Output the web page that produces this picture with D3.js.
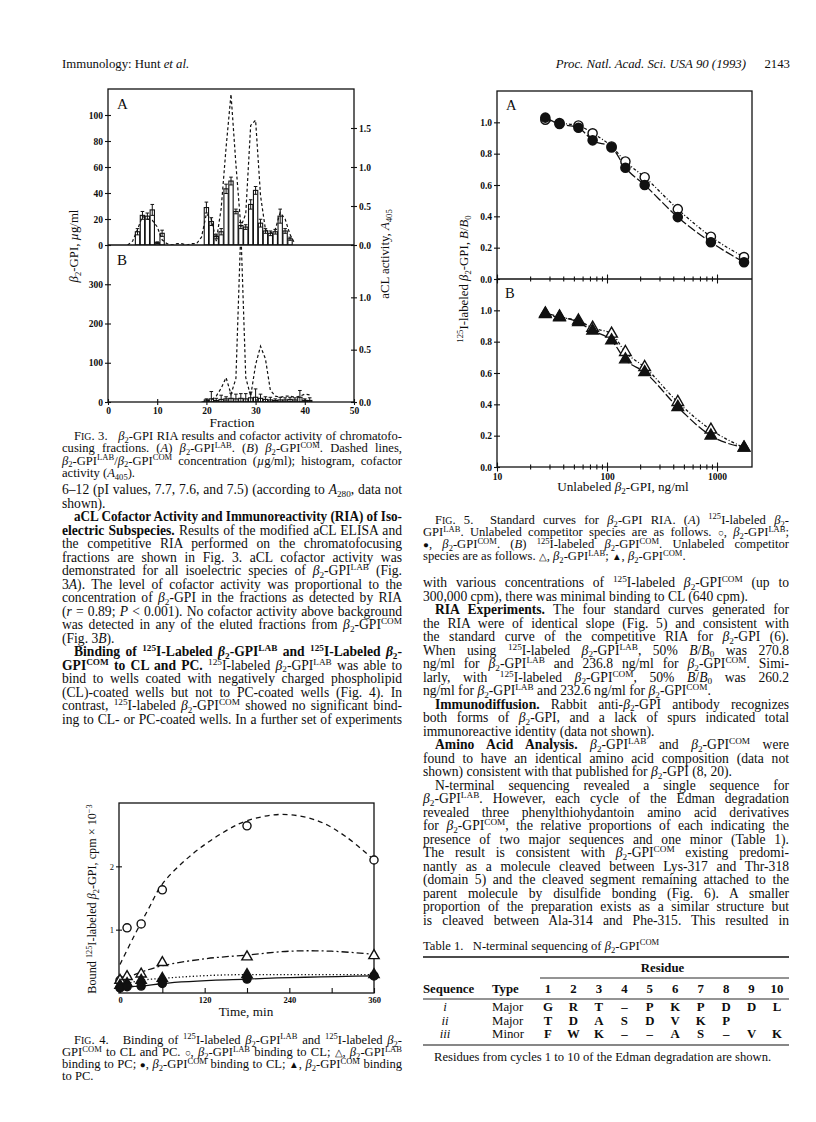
<!DOCTYPE html>
<html>
<head>
<meta charset="utf-8">
<script src="https://cdn.jsdelivr.net/npm/d3@7"></script>
<style>
  body { margin: 0; background: #fff; }
  svg { display: block; }
  text { font-family: "Liberation Serif", "Times New Roman", serif; fill: #0d0d0d; }
</style>
</head>
<body>
<svg id="page" width="816" height="1122"></svg>
<script>
// ---------------- data ----------------
// Fig. 3A: histogram (cofactor activity, A405) and dashed concentration (ug/ml)
var f3aBarFrac = [6,7,8,9,10,11,20,21,22,23,24,25,26,27,28,29,30,31,32,33,34,35,36,37];
var f3aBarA405 = [0.17,0.38,0.37,0.45,0.03,0.15,0.48,0.30,0.11,0.17,0.72,0.82,0.43,0.25,0.23,0.52,0.70,0.28,0.18,0.15,0.17,0.37,0.18,0.08];
var f3aBarErr  = [0.04,0.05,0.04,0.07,0.01,0.04,0.07,0.05,0.03,0.04,0.06,0.05,0.03,0.04,0.03,0.06,0.05,0.05,0.03,0.03,0.03,0.09,0.03,0.02];
var f3aConcFrac = [4,5,6,7,8,9,10,11,12,13,14,15,16,17,18,19,20,21,22,23,24,25,26,27,28,29,30,31,32,33,34,35,36,37,38];
var f3aConc     = [0,3,12,22,20,19,14,4,1,0,1,1,0,1,1,6,24,20,3,28,75,116,62,14,24,92,96,38,12,9,12,25,20,8,1];

// Fig. 3B
var f3bBarFrac = [20,21,22,23,24,25,26,27,28,29,30,31,32,33,34,35,36,37,38,39,40,41];
var f3bBarA405 = [0.02,0.03,0.015,0.025,0.03,0.035,0.03,0.035,0.03,0.04,0.045,0.035,0.025,0.02,0.015,0.02,0.02,0.025,0.02,0.045,0.015,0.015];
var f3bBarErr  = [0.01,0.07,0.02,0.04,0.02,0.05,0.045,0.045,0.05,0.055,0.08,0.04,0.025,0.025,0.015,0.025,0.02,0.02,0.02,0.065,0.015,0.025];
var f3bConcFrac = [19,20,21,22,23,24,25,26,27,28,29,30,31,32,33,34,35,36,37,38,39,40,41];
var f3bConc     = [0,2,5,15,35,62,20,60,440,62,15,95,142,110,30,15,12,15,15,12,15,20,18];

// Fig. 5: unlabeled competitor (ng/ml) vs B/B0
var f5Conc = [27.5,37,55,74,110,147,220,440,880,1760];
var f5aLab = [1.017,0.996,0.98,0.93,0.846,0.75,0.65,0.446,0.27,0.14];
var f5aCom = [1.03,0.99,0.965,0.885,0.84,0.71,0.60,0.395,0.235,0.107];
var f5bLab = [0.975,0.955,0.934,0.888,0.85,0.733,0.637,0.414,0.238,0.123];
var f5bCom = [0.98,0.96,0.924,0.87,0.807,0.686,0.605,0.382,0.20,0.123];
var f5Ticks = [10,20,30,40,50,60,70,80,90,100,200,300,400,500,600,700,800,900,1000];
var f5Major = [10,100,1000];

// Fig. 4: bound cpm x 10^-3 vs time (min)
var f4Times = [0,10,30,60,180,360];
var f4LabCL = [0.2,1.03,1.09,1.63,2.64,2.10];
var f4LabPC = [0.2,0.26,0.3,0.48,0.57,0.59];
var f4ComCL = [0.08,0.1,0.11,0.15,0.22,0.27];
var f4ComPC = [0.12,0.15,0.2,0.23,0.29,0.29];
var f4FitLabCLt = [0,20,40,60,100,150,180,230,280,320,360];
var f4FitLabCL  = [0.45,0.9,1.32,1.72,2.17,2.56,2.72,2.82,2.72,2.47,2.1];
var f4FitLabPCt = [0,30,60,120,180,240,300,360];
var f4FitLabPC  = [0.2,0.33,0.43,0.54,0.6,0.66,0.66,0.61];
var f4XTicks = [0,60,120,180,240,300,360];
var f4XLabels = [0,120,240,360];

// Table 1
var tabSeq = ["i","ii","iii"];
var tabType = ["Major","Major","Minor"];
var tabRes = [
  ["G","R","T","–","P","K","P","D","D","L"],
  ["T","D","A","S","D","V","K","P","",""],
  ["F","W","K","–","–","A","S","–","V","K"]
];
var tabCols = [1,2,3,4,5,6,7,8,9,10];

// ---------------- text ----------------
var leftBody = [
  "6–12 (pI values, 7.7, 7.6, and 7.5) (according to *A*_{280}, data not",
  "shown).¶",
  "> #aCL Cofactor Activity and Immunoreactivity (RIA) of Iso-#",
  "#electric Subspecies.# Results of the modified aCL ELISA and",
  "the competitive RIA performed on the chromatofocusing",
  "fractions are shown in Fig. 3. aCL cofactor activity was",
  "demonstrated for all isoelectric species of ~-GPI^{LAB} (Fig.",
  "3*A*). The level of cofactor activity was proportional to the",
  "concentration of ~-GPI in the fractions as detected by RIA",
  "(*r* = 0.89; *P* < 0.001). No cofactor activity above background",
  "was detected in any of the eluted fractions from ~-GPI^{COM}",
  "(Fig. 3*B*).¶",
  "> #Binding of ^{125}I-Labeled ~-GPI^{LAB} and ^{125}I-Labeled ~-#",
  "#GPI^{COM} to CL and PC.# ^{125}I-labeled ~-GPI^{LAB} was able to",
  "bind to wells coated with negatively charged phospholipid",
  "(CL)-coated wells but not to PC-coated wells (Fig. 4). In",
  "contrast, ^{125}I-labeled ~-GPI^{COM} showed no significant bind-",
  "ing to CL- or PC-coated wells. In a further set of experiments"
];
var rightBody = [
  "with various concentrations of ^{125}I-labeled ~-GPI^{COM} (up to",
  "300,000 cpm), there was minimal binding to CL (640 cpm).¶",
  "> #RIA Experiments.# The four standard curves generated for",
  "the RIA were of identical slope (Fig. 5) and consistent with",
  "the standard curve of the competitive RIA for ~-GPI (6).",
  "When using ^{125}I-labeled ~-GPI^{LAB}, 50% *B*/*B*_{0} was 270.8",
  "ng/ml for ~-GPI^{LAB} and 236.8 ng/ml for ~-GPI^{COM}. Simi-",
  "larly, with ^{125}I-labeled ~-GPI^{COM}, 50% *B*/*B*_{0} was 260.2",
  "ng/ml for ~-GPI^{LAB} and 232.6 ng/ml for ~-GPI^{COM}.¶",
  "> #Immunodiffusion.# Rabbit anti-~-GPI antibody recognizes",
  "both forms of ~-GPI, and a lack of spurs indicated total",
  "immunoreactive identity (data not shown).¶",
  "> #Amino Acid Analysis.# ~-GPI^{LAB} and ~-GPI^{COM} were",
  "found to have an identical amino acid composition (data not",
  "shown) consistent with that published for ~-GPI (8, 20).¶",
  "> N-terminal sequencing revealed a single sequence for",
  "~-GPI^{LAB}. However, each cycle of the Edman degradation",
  "revealed three phenylthiohydantoin amino acid derivatives",
  "for ~-GPI^{COM}, the relative proportions of each indicating the",
  "presence of two major sequences and one minor (Table 1).",
  "The result is consistent with ~-GPI^{COM} existing predomi-",
  "nantly as a molecule cleaved between Lys-317 and Thr-318",
  "(domain 5) and the cleaved segment remaining attached to the",
  "parent molecule by disulfide bonding (Fig. 6). A smaller",
  "proportion of the preparation exists as a similar structure but",
  "is cleaved between Ala-314 and Phe-315. This resulted in"
];
var cap3 = [
  "> F%{IG}. 3.   ~-GPI RIA results and cofactor activity of chromatofo-",
  "cusing fractions. (*A*) ~-GPI^{LAB}. (*B*) ~-GPI^{COM}. Dashed lines,",
  "~-GPI^{LAB}/~-GPI^{COM} concentration (*µ*g/ml); histogram, cofactor",
  "activity (*A*_{405}).¶"
];
var cap4 = [
  "> F%{IG}. 4.   Binding of ^{125}I-labeled ~-GPI^{LAB} and ^{125}I-labeled ~-",
  "GPI^{COM} to CL and PC. %{○}, ~-GPI^{LAB} binding to CL; %{△}, ~-GPI^{LAB}",
  "binding to PC; %{●}, ~-GPI^{COM} binding to CL; %{▲}, ~-GPI^{COM} binding",
  "to PC.¶"
];
var cap5 = [
  "> F%{IG}. 5.  Standard curves for ~-GPI RIA. (*A*) ^{125}I-labeled ~-",
  "GPI^{LAB}. Unlabeled competitor species are as follows. %{○}, ~-GPI^{LAB};",
  "%{●}, ~-GPI^{COM}. (*B*) ^{125}I-labeled ~-GPI^{COM}. Unlabeled competitor",
  "species are as follows. %{△}, ~-GPI^{LAB}; %{▲}, ~-GPI^{COM}.¶"
];

// ---------------- layout ----------------
var LX0 = 62, LX1 = 402, RX0 = 423, RX1 = 789;
var LEAD = 13.5, BODY = 13.6, CAP = 12.6;

var svg = d3.select("#page");

function rich(parent, str, x, y, opt) {
  opt = Object.assign({size: BODY, anchor: "start", width: 0, rotate: 0, bold: false, italic: false}, opt || {});
  str = str.replace(/~/g, "*β*_{2}");
  var runs = [], it = opt.italic, bd = opt.bold, buf = "";
  function flush() { if (buf) runs.push({t: buf, it: it, bd: bd, pos: 0, small: false}); buf = ""; }
  for (var i = 0; i < str.length; i++) {
    var c = str[i];
    if (c === "*") { flush(); it = !it; continue; }
    if (c === "#") { flush(); bd = !bd; continue; }
    if ((c === "^" || c === "_" || c === "%") && str[i + 1] === "{") {
      flush();
      var j = str.indexOf("}", i);
      runs.push({t: str.slice(i + 2, j), it: it, bd: bd, pos: c === "^" ? 1 : c === "_" ? -1 : 0, small: true});
      i = j; continue;
    }
    buf += c;
  }
  flush();
  var t = parent.append("text").attr("x", x).attr("y", y)
    .attr("font-size", opt.size).attr("text-anchor", opt.anchor)
    .style("white-space", "pre");
  if (opt.rotate) t.attr("transform", "rotate(" + opt.rotate + "," + x + "," + y + ")");
  var cur = 0;
  runs.forEach(function(r) {
    var target = r.pos === 1 ? -opt.size * 0.36 : r.pos === -1 ? opt.size * 0.22 : 0;
    var ts = t.append("tspan").text(r.t);
    if (target !== cur) { ts.attr("dy", target - cur); cur = target; }
    if (r.small) ts.attr("font-size", opt.size * (r.pos ? 0.68 : 0.78));
    if (r.it) ts.attr("font-style", "italic");
    if (r.bd) ts.attr("font-weight", "bold");
  });
  if (opt.width) {
    var len = t.node().getComputedTextLength();
    var spaces = runs.reduce(function(s, r) { return s + (r.t.match(/ /g) || []).length; }, 0);
    var ws = spaces ? (opt.width - len) / spaces : 0;
    if (ws < -0.8) {
      // too long for the column: squeeze glyphs slightly instead of closing the gaps
      t.attr("textLength", opt.width).attr("lengthAdjust", "spacingAndGlyphs");
    } else if (spaces) {
      t.style("word-spacing", ws + "px");
    }
  }
  return t;
}

function block(lines, x0, x1, y0, lead, size, indent) {
  lines.forEach(function(ln, k) {
    var s = ln, ind = 0, last = false;
    if (s.indexOf("> ") === 0) { s = s.slice(2); ind = indent; }
    if (s.slice(-1) === "¶") { s = s.slice(0, -1); last = true; }
    rich(svg, s, x0 + ind, y0 + k * lead, {size: size, width: last ? 0 : (x1 - x0 - ind)});
  });
}

// axis with ticks crossing the line
function crossAxis(g, scale, side, pos, values, fmt, len, fs, bold) {
  var mk = side === "left" ? d3.axisLeft : side === "right" ? d3.axisRight : d3.axisBottom;
  var opp = side === "left" ? d3.axisRight : side === "right" ? d3.axisLeft : d3.axisTop;
  var tr = side === "bottom" ? "translate(0," + pos + ")" : "translate(" + pos + ",0)";
  var a = g.append("g").attr("transform", tr)
    .call(mk(scale).tickValues(values).tickSize(len).tickPadding(2).tickFormat(fmt || function() { return ""; }));
  var b = g.append("g").attr("transform", tr)
    .call(opp(scale).tickValues(values).tickSize(len).tickFormat(function() { return ""; }));
  [a, b].forEach(function(s) {
    s.select(".domain").remove();
    s.selectAll("line").attr("stroke", "#111").attr("stroke-width", 1.1);
  });
  a.attr("font-family", null).attr("font-size", null);
  a.selectAll("text").attr("font-size", fs).attr("fill", "#111").attr("font-weight", bold ? "bold" : null);
  return a;
}

// ---------------- header ----------------
rich(svg, "Immunology: Hunt *et al.*", LX0, 68, {size: 12.8});
rich(svg, "*Proc. Natl. Acad. Sci. USA 90 (1993)*", 746, 68, {size: 12.8, anchor: "end"});
rich(svg, "2143", RX1 + 1, 68, {size: 12.8, anchor: "end"});

// ---------------- Fig. 3 ----------------
var g3 = svg.append("g");
var f3x = d3.scaleLinear().domain([0, 50]).range([108, 354]);
var f3aY = d3.scaleLinear().domain([0, 120]).range([245, 89]);
var f3aY2 = d3.scaleLinear().domain([0, 2.0]).range([245, 89]);
var f3bY = d3.scaleLinear().domain([0, 400]).range([402, 245]);
var f3bY2 = d3.scaleLinear().domain([0, 1.5]).range([402, 245]);
var bw = f3x(1) - f3x(0);

svg.append("clipPath").attr("id", "clipA").append("rect").attr("x", 108).attr("y", 89).attr("width", 246).attr("height", 156);
svg.append("clipPath").attr("id", "clipB").append("rect").attr("x", 108).attr("y", 245).attr("width", 246).attr("height", 157);

function histogram(fr, val, err, y2, clip) {
  var gg = g3.append("g").attr("clip-path", "url(#" + clip + ")");
  gg.selectAll("rect").data(fr).enter().append("rect")
    .attr("x", function(d) { return f3x(d - 0.5) + 0.3; })
    .attr("width", bw - 0.6)
    .attr("y", function(d, i) { return y2(val[i]); })
    .attr("height", function(d, i) { return y2(0) - y2(val[i]); })
    .attr("fill", "#fff").attr("stroke", "#111").attr("stroke-width", 1.1);
  fr.forEach(function(d, i) {
    var cx = f3x(d), lo = y2(Math.max(0, val[i] - err[i])), hi = y2(val[i] + err[i]);
    gg.append("line").attr("x1", cx).attr("x2", cx).attr("y1", lo).attr("y2", hi).attr("stroke", "#111");
    gg.append("line").attr("x1", cx - 1.8).attr("x2", cx + 1.8).attr("y1", hi).attr("y2", hi).attr("stroke", "#111");
    gg.append("line").attr("x1", cx - 1.8).attr("x2", cx + 1.8).attr("y1", lo).attr("y2", lo).attr("stroke", "#111");
  });
}
function concLine(fr, val, y, clip) {
  g3.append("path").attr("clip-path", "url(#" + clip + ")")
    .datum(fr.map(function(d, i) { return [d, val[i]]; }))
    .attr("d", d3.line().x(function(d) { return f3x(d[0]); }).y(function(d) { return y(d[1]); }))
    .attr("fill", "none").attr("stroke", "#111").attr("stroke-width", 1.2).attr("stroke-dasharray", "3,2.4");
}
histogram(f3aBarFrac, f3aBarA405, f3aBarErr, f3aY2, "clipA");
concLine(f3aConcFrac, f3aConc, f3aY, "clipA");
histogram(f3bBarFrac, f3bBarA405, f3bBarErr, f3bY2, "clipB");
concLine(f3bConcFrac, f3bConc, f3bY, "clipB");

g3.append("rect").attr("x", 108).attr("y", 89).attr("width", 246).attr("height", 313)
  .attr("fill", "none").attr("stroke", "#111").attr("stroke-width", 1.3);
g3.append("line").attr("x1", 108).attr("x2", 354).attr("y1", 245).attr("y2", 245).attr("stroke", "#111").attr("stroke-width", 1.3);

var f1 = d3.format(".1f");
crossAxis(g3, f3aY, "left", 108, [0,20,40,60,80,100], d3.format("d"), 3, 9.5, true);
crossAxis(g3, f3aY2, "right", 354, [0,0.5,1.0,1.5], f1, 3, 9.5, true);
crossAxis(g3, f3bY, "left", 108, [0,100,200,300], d3.format("d"), 3, 9.5, true);
crossAxis(g3, f3bY2, "right", 354, [0,0.5,1.0], f1, 3, 9.5, true);
crossAxis(g3, f3x, "bottom", 402, [0,10,20,30,40,50], d3.format("d"), 3, 9.5, true);

rich(g3, "A", 117, 109, {size: 15});
rich(g3, "B", 117, 265, {size: 15});
rich(g3, "~-GPI, *µ*g/ml", 78, 246, {size: 12.8, anchor: "middle", rotate: -90});
rich(g3, "aCL activity, *A*_{405}", 389, 254, {size: 12.8, anchor: "middle", rotate: -90});
rich(g3, "Fraction", 232, 427, {size: 13.5, anchor: "middle"});

block(cap3, LX0, LX1, 440, 12.3, CAP, 12);

// ---------------- body text ----------------
block(leftBody, LX0, LX1, 494, LEAD, BODY, 12);
block(rightBody, RX0, RX1, 587, LEAD, BODY, 12);

// ---------------- Fig. 5 ----------------
var g5 = svg.append("g");
var f5x = d3.scaleLog().domain([10, 2080]).range([497, 752]);
var f5aY = d3.scaleLinear().domain([0, 1.2]).range([279, 91]);
var f5bY = d3.scaleLinear().domain([0, 1.2]).range([467, 279]);

g5.append("rect").attr("x", 497).attr("y", 91).attr("width", 255).attr("height", 376)
  .attr("fill", "none").attr("stroke", "#111").attr("stroke-width", 1.3);
g5.append("line").attr("x1", 497).attr("x2", 752).attr("y1", 279).attr("y2", 279).attr("stroke", "#111").attr("stroke-width", 1.3);

[f5aY, f5bY].forEach(function(y) {
  crossAxis(g5, y, "left", 497, [0,0.2,0.4,0.6,0.8,1.0], f1, 3, 9.5, true);
});
[279, 467].forEach(function(yy) {
  crossAxis(g5, f5x, "bottom", yy, f5Ticks.filter(function(d) { return f5Major.indexOf(d) < 0; }), null, 2.5, 9, false);
  var lab = yy === 467 ? function(d) { return d; } : null;
  crossAxis(g5, f5x, "bottom", yy, f5Major, lab, 4.5, 9.5, true);
});

function seriesLine(g, xs, ys, sx, sy, dash, curve) {
  g.append("path").datum(xs.map(function(d, i) { return [d, ys[i]]; }))
    .attr("d", d3.line().curve(curve || d3.curveMonotoneX).x(function(d) { return sx(d[0]); }).y(function(d) { return sy(d[1]); }))
    .attr("fill", "none").attr("stroke", "#111").attr("stroke-width", 1.3)
    .attr("stroke-dasharray", dash);
}
function markers(g, xs, ys, sx, sy, type, filled, size) {
  var sym = d3.symbol().type(type === "tri" ? d3.symbolTriangle : d3.symbolCircle).size(size);
  g.selectAll(null).data(xs).enter().append("path")
    .attr("transform", function(d, i) { return "translate(" + sx(d) + "," + sy(ys[i]) + ")"; })
    .attr("d", sym)
    .attr("fill", filled ? "#111" : "#fff").attr("stroke", "#111").attr("stroke-width", 1.4);
}
seriesLine(g5, f5Conc, f5aLab, f5x, f5aY, "3,2,1,2");
seriesLine(g5, f5Conc, f5aCom, f5x, f5aY, "9,2.5");
markers(g5, f5Conc, f5aLab, f5x, f5aY, "circle", false, 66);
markers(g5, f5Conc, f5aCom, f5x, f5aY, "circle", true, 66);
seriesLine(g5, f5Conc, f5bLab, f5x, f5bY, "3,2,1,2");
seriesLine(g5, f5Conc, f5bCom, f5x, f5bY, "9,2.5");
markers(g5, f5Conc, f5bLab, f5x, f5bY, "tri", false, 58);
markers(g5, f5Conc, f5bCom, f5x, f5bY, "tri", true, 58);

rich(g5, "A", 506, 110, {size: 14.5});
rich(g5, "B", 505, 298, {size: 14.5});
rich(g5, "^{125}I-labeled ~-GPI, *B*/*B*_{0}", 468, 279, {size: 12.8, anchor: "middle", rotate: -90});
rich(g5, "Unlabeled ~-GPI, ng/ml", 623, 491, {size: 13.2, anchor: "middle"});

block(cap5, RX0, RX1, 524, 12.1, CAP, 12);

// ---------------- Fig. 4 ----------------
var g4 = svg.append("g");
var f4x = d3.scaleLinear().domain([0, 360]).range([120, 374]);
var f4y = d3.scaleLinear().domain([0, 3]).range([993, 803]);

g4.append("rect").attr("x", 119).attr("y", 803).attr("width", 255).attr("height", 190)
  .attr("fill", "none").attr("stroke", "#111").attr("stroke-width", 1.3);
crossAxis(g4, f4y, "left", 119, [1, 2], d3.format("d"), 3, 8.5, false);
var xa = g4.append("g").attr("transform", "translate(0,993)")
  .call(d3.axisTop(f4x).tickValues(f4XTicks).tickSize(5).tickFormat(function() { return ""; }));
xa.select(".domain").remove();
xa.selectAll("line").attr("stroke", "#111").attr("stroke-width", 1.1);
var xl = g4.append("g").attr("transform", "translate(0,993)")
  .call(d3.axisBottom(f4x).tickValues(f4XLabels).tickSize(0).tickPadding(4).tickFormat(d3.format("d")));
xl.select(".domain").remove();
xl.attr("font-family", null).attr("font-size", null);
xl.selectAll("text").attr("font-size", 8.5).attr("fill", "#111").attr("font-weight", "bold");

seriesLine(g4, f4FitLabCLt, f4FitLabCL, f4x, f4y, "5,4", d3.curveCatmullRom);
seriesLine(g4, f4FitLabPCt, f4FitLabPC, f4x, f4y, "7,3,2,3", d3.curveCatmullRom);
seriesLine(g4, f4Times, f4ComPC, f4x, f4y, "1.3,2.2");
seriesLine(g4, f4Times, f4ComCL, f4x, f4y, null);
markers(g4, f4Times, f4LabCL, f4x, f4y, "circle", false, 52);
markers(g4, f4Times, f4LabPC, f4x, f4y, "tri", false, 46);
markers(g4, f4Times, f4ComPC, f4x, f4y, "tri", true, 46);
markers(g4, f4Times, f4ComCL, f4x, f4y, "circle", true, 52);

rich(g4, "Bound ^{125}I-labeled ~-GPI, cpm × 10^{−3}", 96, 899, {size: 12.2, anchor: "middle", rotate: -90});
rich(g4, "Time, min", 246, 1016, {size: 13.2, anchor: "middle"});

block(cap4, LX0, LX1, 1044, 12.1, CAP, 12);

// ---------------- Table 1 ----------------
var gt = svg.append("g");
var colX = d3.scalePoint().domain(tabCols).range([548, 777]);
var rowY = d3.scalePoint().domain(tabSeq).range([1011, 1038]);
var typeX = 492;
rich(gt, "Table 1.   N-terminal sequencing of ~-GPI^{COM}", RX0, 950, {size: 12.6});
gt.append("line").attr("x1", RX0).attr("x2", RX1).attr("y1", 957).attr("y2", 957).attr("stroke", "#111").attr("stroke-width", 1.6);
rich(gt, "#Residue#", (colX(1) + colX(10)) / 2, 972, {size: 12.8, anchor: "middle"});
gt.append("line").attr("x1", colX(1) - 8).attr("x2", RX1).attr("y1", 978).attr("y2", 978).attr("stroke", "#111").attr("stroke-width", 0.9);
rich(gt, "#Sequence#", RX0, 993, {size: 12.8});
rich(gt, "#Type#", typeX, 993, {size: 12.8});
gt.selectAll(null).data(tabCols).enter().append("text")
  .attr("x", function(d) { return colX(d); }).attr("y", 993)
  .attr("text-anchor", "middle").attr("font-size", 12.8).attr("font-weight", "bold")
  .text(function(d) { return d; });
gt.append("line").attr("x1", RX0).attr("x2", RX1).attr("y1", 999).attr("y2", 999).attr("stroke", "#111").attr("stroke-width", 0.9);
tabSeq.forEach(function(s, r) {
  rich(gt, "*" + s + "*", RX0 + 22, rowY(s), {size: 12.8, anchor: "middle"});
  rich(gt, tabType[r], typeX, rowY(s), {size: 12.8});
  gt.selectAll(null).data(tabRes[r]).enter().append("text")
    .attr("x", function(d, i) { return colX(tabCols[i]); }).attr("y", rowY(s))
    .attr("text-anchor", "middle").attr("font-size", 12.8).attr("font-weight", "bold")
    .text(function(d) { return d; });
});
gt.append("line").attr("x1", RX0).attr("x2", RX1).attr("y1", 1045).attr("y2", 1045).attr("stroke", "#111").attr("stroke-width", 1.2);
rich(gt, "Residues from cycles 1 to 10 of the Edman degradation are shown.", RX0 + 11, 1061, {size: 12.6});
</script>
</body>
</html>
